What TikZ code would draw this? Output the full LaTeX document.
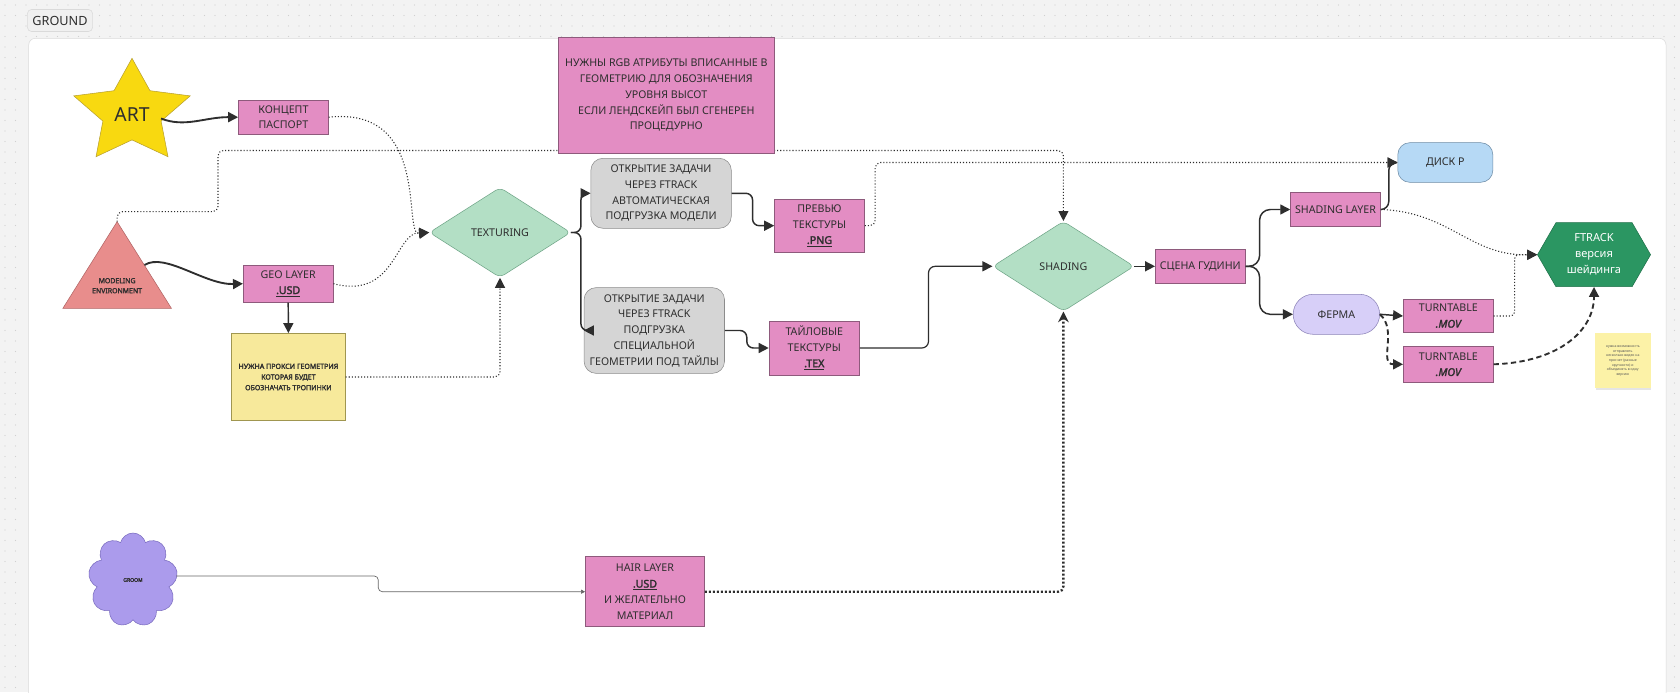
\documentclass[tikz,border=0pt]{standalone}
\usepackage{fontspec}
\setmainfont{Noto Sans}
\newfontfamily\heavyface{Noto Sans}[FakeBold=2.2]
\usetikzlibrary{shapes.geometric,shapes.symbols,shapes.misc,arrows.meta,shadows}

\newcommand{\ext}[1]{\underline{{\heavyface #1}}}

\definecolor{pagebg}{HTML}{F3F3F3}
\definecolor{griddot}{HTML}{D0D0D0}
\definecolor{panelline}{HTML}{DADADA}
\definecolor{ink}{HTML}{2E2E2E}
\definecolor{layerpink}{HTML}{E38DC3}
\definecolor{layerline}{HTML}{8E5A7C}
\definecolor{taskgrey}{HTML}{D5D5D5}
\definecolor{taskline}{HTML}{8C8C8C}
\definecolor{stagegreen}{HTML}{B3DFC5}
\definecolor{stageline}{HTML}{6FA587}
\definecolor{noteyellow}{HTML}{F7E99B}
\definecolor{noteline}{HTML}{A09650}
\definecolor{artyellow}{HTML}{F8D910}
\definecolor{artline}{HTML}{B8A030}
\definecolor{modelred}{HTML}{E88D8C}
\definecolor{modelline}{HTML}{B06464}
\definecolor{diskblue}{HTML}{B6D9F5}
\definecolor{diskline}{HTML}{6E8CA6}
\definecolor{farmlilac}{HTML}{D7CFF8}
\definecolor{farmline}{HTML}{8C83B8}
\definecolor{ftrackgreen}{HTML}{2B9662}
\definecolor{ftrackline}{HTML}{1E7049}
\definecolor{groompurple}{HTML}{AB9BEC}
\definecolor{groomline}{HTML}{7A6CBF}
\definecolor{stickyyellow}{HTML}{FCF2A7}

\tikzstyle{grouptag} = [draw=panelline, fill=black!6, rounded corners=3pt, text=ink,
    font=\fontsize{9.5}{11}\selectfont, minimum width=48.8pt, minimum height=16.5pt, inner sep=1pt]
\tikzstyle{layerbox} = [draw=layerline, fill=layerpink, rectangle, text=ink, align=center,
    font=\fontsize{8}{11.8}\selectfont, inner sep=1pt, minimum width=67.5pt, minimum height=25.5pt]
\tikzstyle{taskbox} = [draw=taskline, fill=taskgrey, rectangle, rounded corners=9pt, text=ink,
    align=center, font=\fontsize{8}{11.8}\selectfont, inner sep=1pt, minimum width=105.3pt]
\tikzstyle{stagebox} = [draw=stageline, fill=stagegreen, diamond, aspect=1.5, rounded corners=4pt,
    text=ink, font=\fontsize{8}{11.8}\selectfont, minimum width=106pt, minimum height=67.5pt]
\tikzstyle{proxynote} = [draw=noteline, fill=noteyellow, rectangle, text=ink, align=center,
    font=\fontsize{5.3}{8}\heavyface, minimum width=85.5pt, minimum height=65.5pt]
\tikzstyle{diskbox} = [draw=diskline, fill=diskblue, rectangle, rounded corners=9pt, text=ink,
    font=\fontsize{8}{11.8}\selectfont, minimum width=71.3pt, minimum height=29.7pt]
\tikzstyle{farmbox} = [draw=farmline, fill=farmlilac, rounded rectangle, text=ink,
    font=\fontsize{8}{11.8}\selectfont, minimum width=71.5pt, minimum height=30pt]
\tikzstyle{ftrackbox} = [draw=ftrackline, fill=ftrackgreen, signal, signal to=west and east,
    signal pointer angle=120, text=white, align=center, font=\fontsize{8.3}{12}\selectfont,
    minimum width=84.8pt, minimum height=48pt, inner sep=1pt]
\tikzstyle{stickynote} = [fill=stickyyellow, rectangle, text=ink!80, align=center,
    font=\fontsize{2.6}{3.5}\selectfont, minimum width=41.6pt, minimum height=41.3pt,
    drop shadow={opacity=0.2, shadow xshift=0.6pt, shadow yshift=-1.2pt}]
\tikzstyle{groomcloud} = [draw=groomline, fill=groompurple, cloud, cloud puffs=9, aspect=0.95,
    text=ink, font=\fontsize{3.8}{4.5}\heavyface, minimum width=67pt, minimum height=70.5pt,
    inner sep=0pt]
\tikzstyle{tinybold} = [text=ink, align=center, font=\fontsize{5.2}{7.5}\heavyface]

\tikzstyle{solidarrow} = [draw=ink, line width=1.1pt, rounded corners=5pt,
    -{Triangle[length=7.5pt,width=7.5pt]}]
\tikzstyle{dotarrow} = [draw=ink, line width=0.8pt, dash pattern=on 0.8pt off 1.5pt,
    -{Triangle[length=7.5pt,width=7.5pt]}]
\tikzstyle{dasharrow} = [draw=ink, line width=1.4pt, dash pattern=on 4pt off 2.5pt,
    -{Triangle[length=7.5pt,width=7.5pt]}]
\tikzstyle{thickdotarrow} = [draw=ink, line width=1.8pt, dash pattern=on 1.5pt off 1.5pt,
    rounded corners=4pt, -{Stealth[length=8pt,width=8pt]}]
\tikzstyle{thinarrow} = [draw=black!60, line width=0.5pt, rounded corners=3pt,
    -{Triangle[length=3pt,width=3pt]}]

\begin{document}
\begin{tikzpicture}[x=0.75pt, y=-0.75pt]
\useasboundingbox (0,0) rectangle (1680,692);
% canvas with dot grid
\fill[pagebg] (0,0) rectangle (1680,692);
\foreach \gx in {5,15.5,...,1680}
  \foreach \gy in {5,15.5,26,36.5}
    \fill[griddot] (\gx,\gy) circle (0.45pt);
\foreach \gx in {5,15.5,1674.5}
  \foreach \gy in {47,57.5,...,692}
    \fill[griddot] (\gx,\gy) circle (0.45pt);
\draw[panelline, fill=white, rounded corners=5pt] (28.7,38.3) rectangle (1666,720);
\node[grouptag] (ground) at (60,20.5) {GROUND};

% sources
\draw[artline, fill=artyellow, shift={(132,112.7)}] (-90:61.2 and 54.4) -- (-54:30.6 and 27.2)
  -- (-18:61.2 and 54.4) -- (18:30.6 and 27.2) -- (54:61.2 and 54.4) -- (90:30.6 and 27.2)
  -- (126:61.2 and 54.4) -- (162:30.6 and 27.2) -- (198:61.2 and 54.4) -- (234:30.6 and 27.2) -- cycle;
\node[text=ink, font=\fontsize{14.5}{17}\selectfont] (art) at (132,115) {ART};
\coordinate (artout) at (161,118.5);

\draw[modelline, fill=modelred] (117.1,221.7) coordinate (modeltop) -- (171.4,308.3) -- (62.9,308.3) -- cycle;
\node[tinybold] (model) at (117.1,285.7) {MODELING\\ENVIRONMENT};
\coordinate (modelout) at (144.5,265);

\node[groomcloud] (groom) at (133,580) {GROOM};

% boxes
\node[layerbox] (koncept) at (283.4,117.2) {КОНЦЕПТ\\ПАСПОРТ};
\node[layerbox, minimum height=28pt] (geo) at (288.2,283.7) {GEO LAYER\\\ext{.USD}};
\node[proxynote] (proxy) at (288.4,377) {НУЖНА ПРОКСИ ГЕОМЕТРИЯ\\КОТОРАЯ БУДЕТ\\ОБОЗНАЧАТЬ ТРОПИНКИ};
\node[stagebox] (texturing) at (500,232.5) {TEXTURING};
\node[taskbox, minimum height=52.5pt] (autoload) at (661.1,193.3) {ОТКРЫТИЕ ЗАДАЧИ\\ЧЕРЕЗ FTRACK\\АВТОМАТИЧЕСКАЯ\\ПОДГРУЗКА МОДЕЛИ};
\node[layerbox, minimum height=40pt] (preview) at (819.5,225.7) {ПРЕВЬЮ\\ТЕКСТУРЫ\\\ext{.PNG}};
\node[taskbox, minimum height=64.3pt] (tileload) at (654.3,330.5) {ОТКРЫТИЕ ЗАДАЧИ\\ЧЕРЕЗ FTRACK\\ПОДГРУЗКА\\СПЕЦИАЛЬНОЙ\\ГЕОМЕТРИИ ПОД ТАЙЛЫ};
\node[layerbox, minimum width=68pt, minimum height=40.5pt] (tiles) at (814.3,348) {ТАЙЛОВЫЕ\\ТЕКСТУРЫ\\\ext{.TEX}};
\node[layerbox, minimum width=89.5pt, minimum height=52.5pt] (hair) at (645,591.7) {HAIR LAYER\\\ext{.USD}\\И ЖЕЛАТЕЛЬНО\\МАТЕРИАЛ};
\node[stagebox] (shading) at (1063.4,266.3) {SHADING};
\node[layerbox] (scene) at (1200.3,266.3) {СЦЕНА ГУДИНИ};
\node[layerbox] (shadinglayer) at (1335.5,209.5) {SHADING LAYER};
\node[diskbox] (disk) at (1445.3,162.5) {ДИСК Р};
\node[farmbox] (farm) at (1336.4,314.3) {ФЕРМА};
\node[layerbox, minimum height=25pt] (turntable) at (1448.3,316) {TURNTABLE\\{\heavyface\itshape .MOV}};
\node[layerbox, minimum height=27.5pt] (turntablebatch) at (1448.3,364.3) {TURNTABLE\\{\heavyface\itshape .MOV}};
\node[ftrackbox] (ftrack) at (1594,254.7) {FTRACK\\версия\\шейдинга};
\node[stickynote] (sticky) at (1622.8,360.8) {нужна возможность\\отправлять\\несколько видео на\\просчет (разные\\крупности) и\\объединять в одну\\версию};

% connectors
\draw[solidarrow, line width=1.4pt] (artout) .. controls (185,128) and (205,117) .. (koncept.west);
\draw[solidarrow, line width=1.4pt] (modelout) .. controls (165,252) and (205,285) .. (geo.west);
\draw[solidarrow] (geo.south) -- (proxy.north);
\draw[dotarrow] (koncept.east) .. controls (432,106) and (402,236) .. (texturing.west);
\draw[dotarrow] (geo.east) .. controls (395,300) and (395,233) .. (texturing.west);
\draw[dotarrow, rounded corners=4pt] (proxy.east) -| (texturing.south);
\draw[dotarrow, rounded corners=4pt] (modeltop) -- ++(0,-10) -| (218,150.5) -| (shading.north);
\draw[solidarrow] (texturing.east) -- ++(10,0) |- (autoload.west);
\draw[solidarrow] (texturing.east) -- ++(10,0) |- (tileload.west);
\draw[solidarrow] (autoload.east) -- ++(21,0) |- (preview.west);
\draw[solidarrow] (tileload.east) -- ++(22,0) |- (tiles.west);
\draw[solidarrow, line width=0.9pt] (tiles.east) -- ++(68.6,0) |- (shading.west);
\draw[dotarrow, rounded corners=4pt] (preview.east) -- ++(10.4,0) |- (disk.west);
\draw[thinarrow] ([yshift=3pt]groom.east) -| (378.3,584) |- (hair.west);
\draw[thickdotarrow] (hair.east) -| (shading.south);
\draw[solidarrow] (shading.east) -- (scene.west);
\draw[solidarrow, rounded corners=8pt] (scene.east) -- ++(14,0) |- (shadinglayer.west);
\draw[solidarrow, rounded corners=8pt] (scene.east) -- ++(14,0) |- (farm.west);
\draw[solidarrow, rounded corners=6pt] (shadinglayer.east) -- ++(8,0) |- (disk.west);
\draw[dotarrow] (shadinglayer.east) .. controls (1450,212) and (1470,256) .. (ftrack.west);
\draw[solidarrow] (farm.east) -- (turntable.west);
\draw[dasharrow] (farm.east) .. controls (1398,330) and (1378,364.3) .. (turntablebatch.west);
\draw[dotarrow, rounded corners=3pt] (turntable.east) -- ++(21,0) |- (ftrack.west);
\draw[dasharrow] (turntablebatch.east) .. controls (1560,362) and (1594,330) .. (ftrack.south);

% note over the dotted line
\node[layerbox, minimum width=162pt, minimum height=87pt] (rgbnote) at (666.3,95.3) {НУЖНЫ RGB АТРИБУТЫ ВПИСАННЫЕ В\\ГЕОМЕТРИЮ ДЛЯ ОБОЗНАЧЕНИЯ\\УРОВНЯ ВЫСОТ\\ЕСЛИ ЛЕНДСКЕЙП БЫЛ СГЕНЕРЕН\\ПРОЦЕДУРНО};
\end{tikzpicture}
\end{document}
